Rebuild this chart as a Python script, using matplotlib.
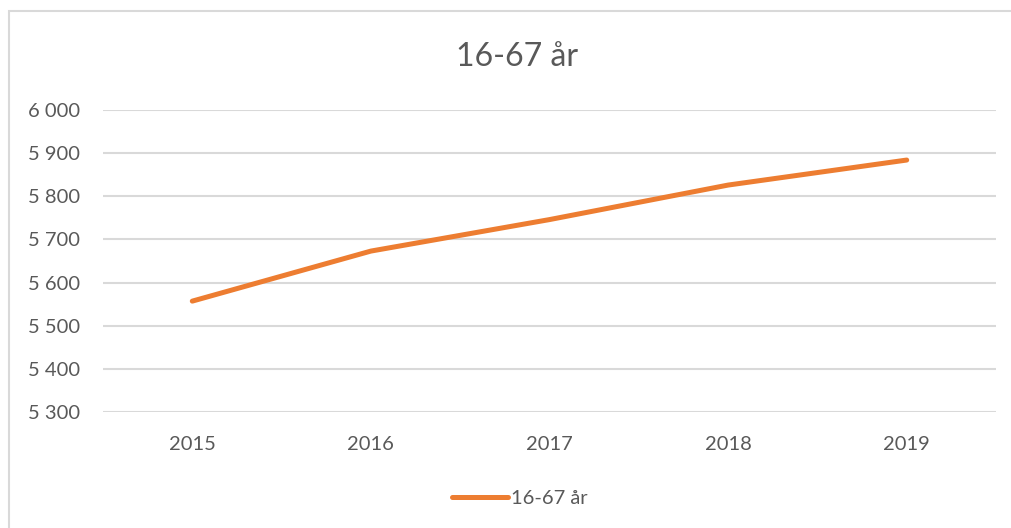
import matplotlib.pyplot as plt
from matplotlib.patches import Rectangle
from matplotlib.ticker import FuncFormatter

years = ["2015", "2016", "2017", "2018", "2019"]
values = [5557, 5673, 5746, 5826, 5884]
series_name = "16-67 år"

plt.rcParams['font.family'] = ['Lato', 'DejaVu Sans']

fig = plt.figure(figsize=(10.12, 5.28), dpi=100)

# chart border (runs off the right and bottom edge)
fig.patches.append(Rectangle((9 / 1012, -0.05), 1.1, 1 - 11 / 528 + 0.05,
                             transform=fig.transFigure, fill=False,
                             edgecolor='#d9d9d9', linewidth=1.5))

ax = fig.add_axes([103 / 1012, 1 - 412 / 528, (996 - 103) / 1012, (412 - 110) / 528])

x = range(len(years))
ax.plot(x, values, color='#ED7D31', linewidth=3.6, solid_capstyle='round',
        label=series_name)

ax.set_xlim(-0.5, len(years) - 0.5)
ax.set_ylim(5300, 6000)
ax.set_yticks(range(5300, 6001, 100))
ax.yaxis.set_major_formatter(FuncFormatter(lambda v, p: f"{int(v):,}".replace(",", " ")))
ax.set_xticks(list(x))
ax.set_xticklabels(years)

ax.grid(axis='y', color='#d9d9d9', linewidth=1.5)
ax.set_axisbelow(True)
for s in ax.spines.values():
    s.set_visible(False)
ax.tick_params(axis='both', length=0, labelsize=14.5, colors='#595959')
ax.tick_params(axis='y', pad=16.5)
ax.tick_params(axis='x', pad=17)

fig.text(517 / 1012, 1 - 57 / 528, "16-67 år", ha='center', va='center',
         fontsize=23, color='#595959')

fig.legend(loc='center', bbox_to_anchor=(520 / 1012, 1 - 498 / 528), frameon=False,
           fontsize=14.5, labelcolor='#595959', handlelength=2.8, handletextpad=0.15)

fig.savefig("out.png", dpi=100)
